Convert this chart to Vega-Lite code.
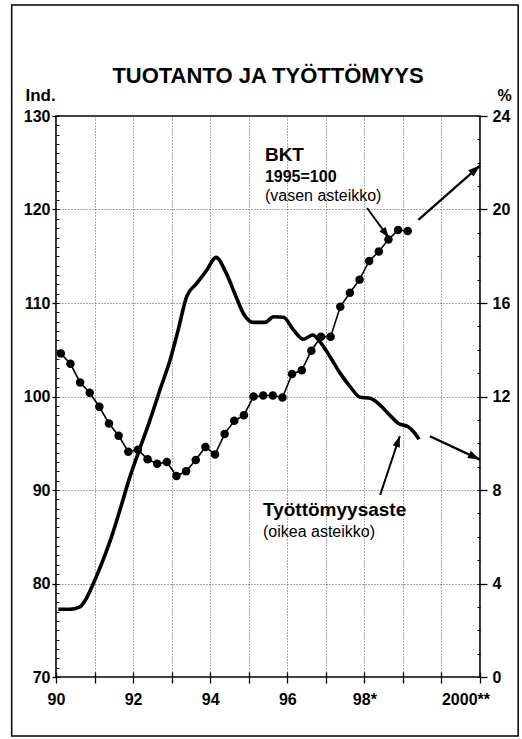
{
  "$schema": "https://vega.github.io/schema/vega-lite/v6.json",
  "width": 424,
  "height": 561,
  "autosize": {"type": "none"},
  "padding": {"left": 56, "top": 116, "right": 42, "bottom": 62},
  "background": "white",
  "title": {"text": "TUOTANTO JA TYÖTTÖMYYS", "font": "Liberation Sans", "fontSize": 22, "fontWeight": "bold", "color": "black", "anchor": "middle", "frame": "group", "baseline": "alphabetic", "offset": -101},
  "config": {
    "view": {"stroke": "black", "strokeWidth": 1.6},
    "font": "Liberation Sans",
    "axis": {"labelFont": "Liberation Sans", "labelFontWeight": "bold", "labelFontSize": 16, "labelColor": "black", "tickColor": "black", "tickWidth": 1.3, "domain": false, "titleFont": "Liberation Sans", "titleFontWeight": "bold", "titleColor": "black", "gridColor": "#555", "gridDash": [1, 2], "gridWidth": 1, "labelFlush": false, "labelOverlap": false, "labelBound": false}
  },
  "datasets": {
    "bkt": [
      {"t": 1990.125, "v": 104.6}, {"t": 1990.375, "v": 103.5}, {"t": 1990.625, "v": 101.5}, {"t": 1990.875, "v": 100.4},
      {"t": 1991.125, "v": 98.9}, {"t": 1991.375, "v": 97.1}, {"t": 1991.625, "v": 95.8}, {"t": 1991.875, "v": 94.1},
      {"t": 1992.125, "v": 94.3}, {"t": 1992.375, "v": 93.3}, {"t": 1992.625, "v": 92.8}, {"t": 1992.875, "v": 93.0},
      {"t": 1993.125, "v": 91.5}, {"t": 1993.375, "v": 92.0}, {"t": 1993.625, "v": 93.2}, {"t": 1993.875, "v": 94.6},
      {"t": 1994.125, "v": 93.8}, {"t": 1994.375, "v": 96.0}, {"t": 1994.625, "v": 97.4}, {"t": 1994.875, "v": 98.0},
      {"t": 1995.125, "v": 100.0}, {"t": 1995.375, "v": 100.1}, {"t": 1995.625, "v": 100.1}, {"t": 1995.875, "v": 99.9},
      {"t": 1996.125, "v": 102.4}, {"t": 1996.375, "v": 102.8}, {"t": 1996.625, "v": 104.9}, {"t": 1996.875, "v": 106.4},
      {"t": 1997.125, "v": 106.4}, {"t": 1997.375, "v": 109.6}, {"t": 1997.625, "v": 111.1}, {"t": 1997.875, "v": 112.5},
      {"t": 1998.125, "v": 114.5}, {"t": 1998.375, "v": 115.5}, {"t": 1998.625, "v": 116.8}, {"t": 1998.875, "v": 117.8},
      {"t": 1999.125, "v": 117.7}
    ],
    "tyott": [
      {"t": 1990.06, "v": 2.9}, {"t": 1990.36, "v": 2.9}, {"t": 1990.62, "v": 3.0}, {"t": 1990.8, "v": 3.4},
      {"t": 1990.97, "v": 4.0}, {"t": 1991.22, "v": 5.0}, {"t": 1991.4, "v": 5.8}, {"t": 1991.66, "v": 7.15},
      {"t": 1991.92, "v": 8.57}, {"t": 1992.13, "v": 9.57}, {"t": 1992.44, "v": 11.0}, {"t": 1992.7, "v": 12.3},
      {"t": 1992.96, "v": 13.56}, {"t": 1993.17, "v": 14.85}, {"t": 1993.39, "v": 16.27}, {"t": 1993.65, "v": 16.84},
      {"t": 1993.91, "v": 17.4}, {"t": 1994.15, "v": 17.95}, {"t": 1994.41, "v": 17.3}, {"t": 1994.67, "v": 16.27},
      {"t": 1994.88, "v": 15.5}, {"t": 1995.12, "v": 15.17}, {"t": 1995.42, "v": 15.17}, {"t": 1995.65, "v": 15.41},
      {"t": 1995.9, "v": 15.39}, {"t": 1996.16, "v": 14.85}, {"t": 1996.42, "v": 14.45}, {"t": 1996.66, "v": 14.63},
      {"t": 1996.85, "v": 14.34}, {"t": 1997.11, "v": 13.7}, {"t": 1997.37, "v": 13.0}, {"t": 1997.63, "v": 12.42},
      {"t": 1997.89, "v": 11.97}, {"t": 1998.15, "v": 11.92}, {"t": 1998.4, "v": 11.64}, {"t": 1998.66, "v": 11.2},
      {"t": 1998.88, "v": 10.85}, {"t": 1999.14, "v": 10.7}, {"t": 1999.27, "v": 10.5}, {"t": 1999.42, "v": 10.17}
    ],
    "bkt_ennuste": [{"t": 1999.4, "v": 118.9}, {"t": 2001.0, "v": 124.7}],
    "tyott_ennuste": [{"t": 1999.7, "v": 10.3}, {"t": 2001.0, "v": 9.3}]
  },
  "resolve": {"scale": {"x": "independent", "y": "independent"}, "axis": {"x": "independent", "y": "independent"}},
  "layer": [
    {
      "data": {"values": [{}]},
      "mark": {"type": "rect", "fill": "white", "fillOpacity": 0, "stroke": "black", "strokeWidth": 1.5},
      "encoding": {
        "x": {"datum": 1988.85, "type": "quantitative", "scale": {"domain": [1990, 2001], "nice": false, "zero": false}, "axis": null},
        "x2": {"datum": 2001.99},
        "y": {"datum": 141.87, "type": "quantitative", "scale": {"domain": [70, 130], "nice": false, "zero": false}, "axis": null},
        "y2": {"datum": 63.69}
      }
    },
    {
      "data": {"name": "bkt"},
      "mark": {"type": "line", "color": "black", "strokeWidth": 1.6, "point": {"filled": true, "size": 72, "color": "black"}},
      "encoding": {
        "x": {"field": "t", "type": "quantitative", "scale": {"domain": [1990, 2001], "nice": false, "zero": false},
          "axis": {"orient": "bottom", "values": [1990, 1991, 1992, 1993, 1994, 1995, 1996, 1997, 1998, 1999, 2000, 2001], "title": null, "tickSize": 6, "labelPadding": 8, "labelDx": 4, "grid": true,
            "labelExpr": "datum.value % 2 == 1 ? '' : datum.value == 1998 ? '98*' : datum.value == 2000 ? '2000**' : format(datum.value % 100, '02d')",
            "labelAlign": {"condition": {"test": "datum.value == 2000", "value": "left"}, "value": "center"}}},
        "y": {"field": "v", "type": "quantitative", "scale": {"domain": [70, 130], "nice": false, "zero": false},
          "axis": {"orient": "left", "values": [70, 80, 90, 100, 110, 120, 130], "tickSize": 4, "labelPadding": 2, "grid": true, "title": "Ind.", "titleAngle": 0, "titleAlign": "left", "titleBaseline": "alphabetic", "titleX": -31, "titleY": -16, "titleFontSize": 17}}
      }
    },
    {
      "data": {"name": "tyott"},
      "mark": {"type": "line", "color": "black", "strokeWidth": 3.6, "interpolate": "monotone", "strokeJoin": "round"},
      "encoding": {
        "x": {"field": "t", "type": "quantitative", "scale": {"domain": [1990, 2001], "nice": false, "zero": false}, "axis": null},
        "y": {"field": "v", "type": "quantitative", "scale": {"domain": [0, 24], "nice": false, "zero": false},
          "axis": {"orient": "right", "values": [0, 4, 8, 12, 16, 20, 24], "tickSize": 7, "labelPadding": 5, "grid": false, "title": "%", "titleAngle": 0, "titleAlign": "left", "titleBaseline": "alphabetic", "titleX": 17, "titleY": -16, "titleFontSize": 16}}
      }
    },
    {
      "data": {"name": "bkt_ennuste"},
      "mark": {"type": "line", "color": "black", "strokeWidth": 2.3},
      "encoding": {
        "x": {"field": "t", "type": "quantitative", "scale": {"domain": [1990, 2001], "nice": false, "zero": false}, "axis": null},
        "y": {"field": "v", "type": "quantitative", "scale": {"domain": [70, 130], "nice": false, "zero": false}, "axis": null}
      }
    },
    {
      "data": {"name": "bkt_ennuste"},
      "transform": [{"filter": "datum.t == 2001"}],
      "mark": {"type": "point", "shape": "M0,0L-0.75,2.2L0.75,2.2Z", "angle": 49.3, "size": 121, "filled": true, "color": "black", "opacity": 1},
      "encoding": {
        "x": {"field": "t", "type": "quantitative", "scale": {"domain": [1990, 2001], "nice": false, "zero": false}, "axis": null},
        "y": {"field": "v", "type": "quantitative", "scale": {"domain": [70, 130], "nice": false, "zero": false}, "axis": null}
      }
    },
    {
      "data": {"name": "tyott_ennuste"},
      "mark": {"type": "line", "color": "black", "strokeWidth": 2.3},
      "encoding": {
        "x": {"field": "t", "type": "quantitative", "scale": {"domain": [1990, 2001], "nice": false, "zero": false}, "axis": null},
        "y": {"field": "v", "type": "quantitative", "scale": {"domain": [0, 24], "nice": false, "zero": false}, "axis": null}
      }
    },
    {
      "data": {"name": "tyott_ennuste"},
      "transform": [{"filter": "datum.t == 2001"}],
      "mark": {"type": "point", "shape": "M0,0L-0.75,2.2L0.75,2.2Z", "angle": 115.6, "size": 121, "filled": true, "color": "black", "opacity": 1},
      "encoding": {
        "x": {"field": "t", "type": "quantitative", "scale": {"domain": [1990, 2001], "nice": false, "zero": false}, "axis": null},
        "y": {"field": "v", "type": "quantitative", "scale": {"domain": [0, 24], "nice": false, "zero": false}, "axis": null}
      }
    },
    {
      "data": {"values": [{}]},
      "mark": {"type": "text", "text": "BKT", "align": "left", "baseline": "alphabetic", "font": "Liberation Sans", "fontSize": 19, "fontWeight": "bold", "color": "black"},
      "encoding": {
        "x": {"datum": 1995.42, "type": "quantitative", "scale": {"domain": [1990, 2001], "nice": false, "zero": false}, "axis": null},
        "y": {"datum": 125.19, "type": "quantitative", "scale": {"domain": [70, 130], "nice": false, "zero": false},
          "axis": {"orient": "left", "values": [70, 71, 72, 73, 74, 75, 76, 77, 78, 79, 80, 81, 82, 83, 84, 85, 86, 87, 88, 89, 90, 91, 92, 93, 94, 95, 96, 97, 98, 99, 100, 101, 102, 103, 104, 105, 106, 107, 108, 109, 110, 111, 112, 113, 114, 115, 116, 117, 118, 119, 120, 121, 122, 123, 124, 125, 126, 127, 128, 129, 130], "offset": -3, "tickSize": 3, "tickWidth": 1, "labels": false, "grid": false, "title": null}}
      }
    },
    {
      "data": {"values": [{}]},
      "mark": {"type": "text", "text": "1995=100", "align": "left", "baseline": "alphabetic", "font": "Liberation Sans", "fontSize": 16, "fontWeight": "bold", "color": "black"},
      "encoding": {
        "x": {"datum": 1995.42, "type": "quantitative", "scale": {"domain": [1990, 2001], "nice": false, "zero": false},
          "axis": {"orient": "bottom", "values": [1990, 1991, 1992, 1993, 1994, 1995, 1996, 1997, 1998, 1999, 2000, 2001], "offset": -5, "tickSize": 5, "labels": false, "grid": false, "title": null}},
        "y": {"datum": 122.94, "type": "quantitative", "scale": {"domain": [70, 130], "nice": false, "zero": false}, "axis": null}
      }
    },
    {
      "data": {"values": [{}]},
      "mark": {"type": "text", "text": "(vasen asteikko)", "align": "left", "baseline": "alphabetic", "font": "Liberation Sans", "fontSize": 16, "color": "black"},
      "encoding": {
        "x": {"datum": 1995.42, "type": "quantitative", "scale": {"domain": [1990, 2001], "nice": false, "zero": false}, "axis": null},
        "y": {"datum": 120.91, "type": "quantitative", "scale": {"domain": [70, 130], "nice": false, "zero": false}, "axis": null}
      }
    },
    {
      "data": {"values": [{}]},
      "mark": {"type": "rule", "color": "black", "strokeWidth": 2},
      "encoding": {
        "x": {"datum": 1998.07, "type": "quantitative", "scale": {"domain": [1990, 2001], "nice": false, "zero": false}, "axis": null},
        "x2": {"datum": 1998.64},
        "y": {"datum": 120.16, "type": "quantitative", "scale": {"domain": [70, 130], "nice": false, "zero": false}, "axis": null},
        "y2": {"datum": 116.95}
      }
    },
    {
      "data": {"values": [{}]},
      "mark": {"type": "point", "shape": "M0,0L-0.75,2.2L0.75,2.2Z", "angle": 143.7, "size": 100, "filled": true, "color": "black", "opacity": 1},
      "encoding": {
        "x": {"datum": 1998.64, "type": "quantitative", "scale": {"domain": [1990, 2001], "nice": false, "zero": false}, "axis": null},
        "y": {"datum": 116.95, "type": "quantitative", "scale": {"domain": [70, 130], "nice": false, "zero": false}, "axis": null}
      }
    },
    {
      "data": {"values": [{}]},
      "mark": {"type": "text", "text": "Työttömyysaste", "align": "left", "baseline": "alphabetic", "font": "Liberation Sans", "fontSize": 19, "fontWeight": "bold", "color": "black"},
      "encoding": {
        "x": {"datum": 1995.37, "type": "quantitative", "scale": {"domain": [1990, 2001], "nice": false, "zero": false}, "axis": null},
        "y": {"datum": 6.89, "type": "quantitative", "scale": {"domain": [0, 24], "nice": false, "zero": false},
          "axis": {"orient": "right", "values": [0, 1, 2, 3, 4, 5, 6, 7, 8, 9, 10, 11, 12, 13, 14, 15, 16, 17, 18, 19, 20, 21, 22, 23, 24], "offset": -3, "tickSize": 3, "tickWidth": 1, "labels": false, "grid": false, "title": null}}
      }
    },
    {
      "data": {"values": [{}]},
      "mark": {"type": "text", "text": "(oikea asteikko)", "align": "left", "baseline": "alphabetic", "font": "Liberation Sans", "fontSize": 16, "color": "black"},
      "encoding": {
        "x": {"datum": 1995.37, "type": "quantitative", "scale": {"domain": [1990, 2001], "nice": false, "zero": false}, "axis": null},
        "y": {"datum": 5.99, "type": "quantitative", "scale": {"domain": [0, 24], "nice": false, "zero": false}, "axis": null}
      }
    },
    {
      "data": {"values": [{}]},
      "mark": {"type": "rule", "color": "black", "strokeWidth": 2},
      "encoding": {
        "x": {"datum": 1998.41, "type": "quantitative", "scale": {"domain": [1990, 2001], "nice": false, "zero": false}, "axis": null},
        "x2": {"datum": 1998.92},
        "y": {"datum": 7.79, "type": "quantitative", "scale": {"domain": [0, 24], "nice": false, "zero": false}, "axis": null},
        "y2": {"datum": 10.31}
      }
    },
    {
      "data": {"values": [{}]},
      "mark": {"type": "point", "shape": "M0,0L-0.75,2.2L0.75,2.2Z", "angle": 19, "size": 100, "filled": true, "color": "black", "opacity": 1},
      "encoding": {
        "x": {"datum": 1998.92, "type": "quantitative", "scale": {"domain": [1990, 2001], "nice": false, "zero": false}, "axis": null},
        "y": {"datum": 10.31, "type": "quantitative", "scale": {"domain": [0, 24], "nice": false, "zero": false}, "axis": null}
      }
    }
  ]
}
